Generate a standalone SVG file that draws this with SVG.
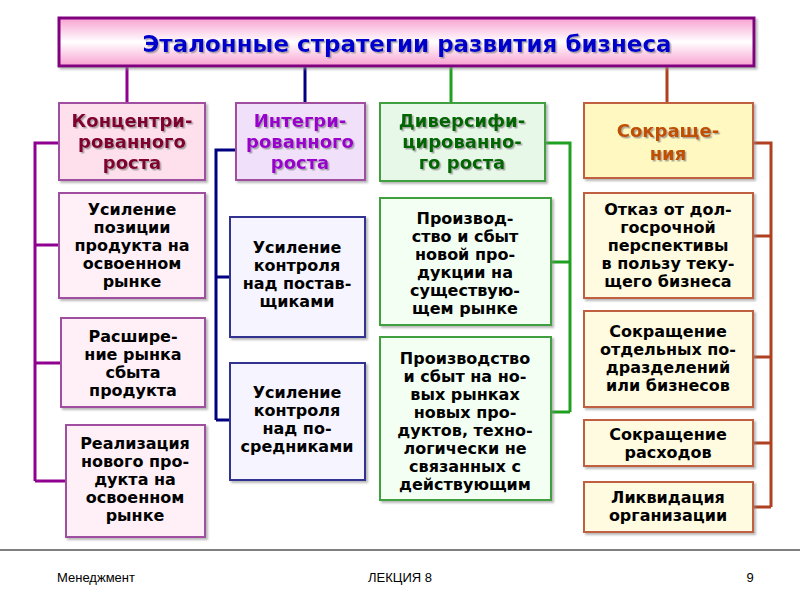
<svg xmlns="http://www.w3.org/2000/svg" width="800" height="600" viewBox="0 0 800 600">
<defs>
<linearGradient id="tg" x1="0" y1="0" x2="0" y2="1"><stop offset="0" stop-color="#f8a0d0"/><stop offset="0.5" stop-color="#ffffff"/><stop offset="1" stop-color="#f8a0d0"/></linearGradient>
<filter id="sh" x="-10%" y="-10%" width="130%" height="130%"><feDropShadow dx="2" dy="2" stdDeviation="1" flood-color="#888" flood-opacity="0.6"/></filter>
<filter id="ts" x="-10%" y="-10%" width="130%" height="130%"><feDropShadow dx="1.5" dy="1.5" stdDeviation="0.5" flood-color="#777" flood-opacity="0.6"/></filter>
</defs>
<style>
text{font-family:"DejaVu Sans","Liberation Sans",sans-serif;text-anchor:middle;font-weight:bold}
.it{font-size:16px;fill:#000}
.hd{font-size:18px}
.ft{font-size:13px;font-weight:normal;font-family:"Liberation Sans",Arial,sans-serif}
.c1{fill:#fff0f8;stroke:#a050a0;stroke-width:2}
.c2{fill:#f6f4ff;stroke:#303090;stroke-width:2}
.c3{fill:#f4fff4;stroke:#40a040;stroke-width:2}
.c4{fill:#fffbe0;stroke:#c06040;stroke-width:2}
.ln{fill:none;stroke-width:3}
</style>
<rect width="800" height="600" fill="#fff"/>
<g id="connectors">
<path class="ln" stroke="#900090" d="M127 66V103M59 143H35V481M35 245H59M35 363H61M35 481H66"/>
<path class="ln" stroke="#000080" d="M305 66V103M236 150H216V420M216 277H230M216 420H230"/>
<path class="ln" stroke="#20a020" d="M451 66V103M545 143H570V412M570 262H551M570 412H551"/>
<path class="ln" stroke="#b04020" d="M667 66V103M753 143H771V507M771 236H753M771 357H753M771 443H753M771 507H753"/>
</g>
<g id="title"><rect x="59" y="18" width="695" height="48" fill="url(#tg)" stroke="#800080" stroke-width="3" filter="url(#sh)"/>
<text x="407" y="52" font-size="23" fill="#0000cc" filter="url(#ts)">Эталонные стратегии развития бизнеса</text></g>
<g id="h1"><rect class="c1" x="59" y="103" width="146" height="77" style="fill:#fde0ec" filter="url(#sh)"/>
<text class="hd" fill="#800030" filter="url(#ts)" x="132" y="127">Концентри-<tspan x="132" dy="21">рованного</tspan><tspan x="132" dy="21">роста</tspan></text></g>
<g id="h2"><rect class="c1" x="236" y="103" width="129" height="77" style="fill:#f0e0fa" filter="url(#sh)"/>
<text class="hd" fill="#9900cc" filter="url(#ts)" x="300" y="127">Интегри-<tspan x="300" dy="21">рованного</tspan><tspan x="300" dy="21">роста</tspan></text></g>
<g id="h3"><rect class="c3" x="380" y="103" width="165" height="78" style="fill:#e8f8e8" filter="url(#sh)"/>
<text class="hd" fill="#006600" filter="url(#ts)" x="462" y="127">Диверсифи-<tspan x="462" dy="21">цированно-</tspan><tspan x="462" dy="21">го роста</tspan></text></g>
<g id="h4"><rect class="c4" x="584" y="103" width="169" height="75" style="fill:#fff8c0" filter="url(#sh)"/>
<text class="hd" fill="#c05000" filter="url(#ts)" x="668" y="137" font-size="20">Сокраще-<tspan x="668" dy="23">ния</tspan></text></g>
<g id="n11"><rect class="c1" x="59" y="193" width="146" height="105" filter="url(#sh)"/>
<text class="it" x="132" y="215">Усиление<tspan x="132" dy="18">позиции</tspan><tspan x="132" dy="18">продукта на</tspan><tspan x="132" dy="18">освоенном</tspan><tspan x="132" dy="18">рынке</tspan></text></g>
<g id="n12"><rect class="c1" x="61" y="318" width="144" height="89" filter="url(#sh)"/>
<text class="it" x="133" y="342">Расшире-<tspan x="133" dy="18">ние рынка</tspan><tspan x="133" dy="18">сбыта</tspan><tspan x="133" dy="18">продукта</tspan></text></g>
<g id="n13"><rect class="c1" x="66" y="425" width="139" height="112" filter="url(#sh)"/>
<text class="it" x="135" y="449">Реализация<tspan x="135" dy="18">нового про-</tspan><tspan x="135" dy="18">дукта на</tspan><tspan x="135" dy="18">освоенном</tspan><tspan x="135" dy="18">рынке</tspan></text></g>
<g id="n21"><rect class="c2" x="230" y="217" width="135" height="120" filter="url(#sh)"/>
<text class="it" x="297" y="253">Усиление<tspan x="297" dy="18">контроля</tspan><tspan x="297" dy="18">над постав-</tspan><tspan x="297" dy="18">щиками</tspan></text></g>
<g id="n22"><rect class="c2" x="230" y="363" width="135" height="117" filter="url(#sh)"/>
<text class="it" x="297" y="398">Усиление<tspan x="297" dy="18">контроля</tspan><tspan x="297" dy="18">над по-</tspan><tspan x="297" dy="18">средниками</tspan></text></g>
<g id="n31"><rect class="c3" x="380" y="198" width="171" height="127" filter="url(#sh)"/>
<text class="it" x="465" y="224">Производ-<tspan x="465" dy="18">ство и сбыт</tspan><tspan x="465" dy="18">новой про-</tspan><tspan x="465" dy="18">дукции на</tspan><tspan x="465" dy="18">существую-</tspan><tspan x="465" dy="18">щем рынке</tspan></text></g>
<g id="n32"><rect class="c3" x="380" y="337" width="171" height="163" filter="url(#sh)"/>
<text class="it" x="465" y="364">Производство<tspan x="465" dy="18">и сбыт на но-</tspan><tspan x="465" dy="18">вых рынках</tspan><tspan x="465" dy="18">новых про-</tspan><tspan x="465" dy="18">дуктов, техно-</tspan><tspan x="465" dy="18">логически не</tspan><tspan x="465" dy="18">связанных с</tspan><tspan x="465" dy="18">действующим</tspan></text></g>
<g id="n41"><rect class="c4" x="584" y="193" width="169" height="105" filter="url(#sh)"/>
<text class="it" x="668" y="215">Отказ от дол-<tspan x="668" dy="18">госрочной</tspan><tspan x="668" dy="18">перспективы</tspan><tspan x="668" dy="18">в пользу теку-</tspan><tspan x="668" dy="18">щего бизнеса</tspan></text></g>
<g id="n42"><rect class="c4" x="584" y="311" width="169" height="96" filter="url(#sh)"/>
<text class="it" x="668" y="337">Сокращение<tspan x="668" dy="18">отдельных по-</tspan><tspan x="668" dy="18">дразделений</tspan><tspan x="668" dy="18">или бизнесов</tspan></text></g>
<g id="n43"><rect class="c4" x="584" y="420" width="169" height="46" filter="url(#sh)"/>
<text class="it" x="668" y="440">Сокращение<tspan x="668" dy="18">расходов</tspan></text></g>
<g id="n44"><rect class="c4" x="584" y="482" width="169" height="50" filter="url(#sh)"/>
<text class="it" x="668" y="503">Ликвидация<tspan x="668" dy="18">организации</tspan></text></g>
<g id="footer"><line x1="0" y1="550" x2="800" y2="550" stroke="#000" stroke-width="1"/>
<text class="ft" x="96" y="582">Менеджмент</text><text class="ft" x="400" y="582">ЛЕКЦИЯ 8</text><text class="ft" x="750" y="582">9</text></g>
</svg>
